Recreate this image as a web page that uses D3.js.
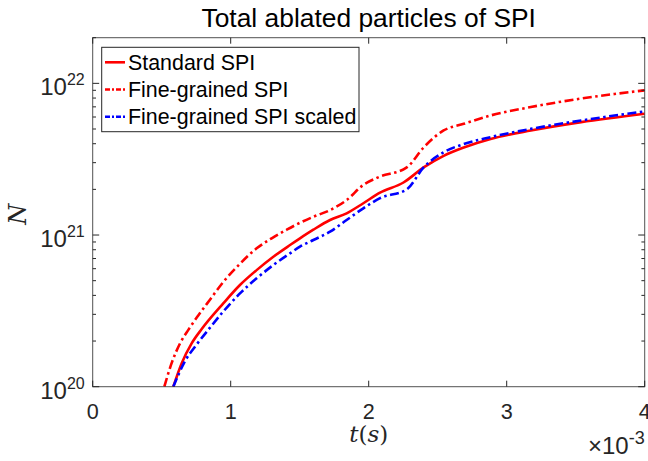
<!DOCTYPE html>
<html>
<head>
<meta charset="utf-8">
<script src="https://cdn.jsdelivr.net/npm/d3@7"></script>
<style>
  body { margin: 0; background: #fff; }
  svg { display: block; }
</style>
</head>
<body>
<svg id="chart"></svg>
<script>
// time in units of 1e-3 s, N = total ablated particles
const tStandard = [0.584, 0.645, 0.717, 0.79, 0.946, 1.067, 1.188, 1.309, 1.43, 1.502, 1.599, 1.72, 1.84, 1.961, 2.082, 2.252, 2.398, 2.543, 2.689, 2.883, 3.175, 3.539, 4.0];
const nStandard = [1.00e20, 1.43e20, 1.93e20, 2.40e20, 3.54e20, 4.68e20, 5.87e20, 7.19e20, 8.59e20, 9.51e20, 1.084e21, 1.256e21, 1.39e21, 1.62e21, 1.905e21, 2.22e21, 2.79e21, 3.33e21, 3.78e21, 4.30e21, 4.89e21, 5.55e21, 6.31e21];

const tFine = [0.519, 0.572, 0.633, 0.693, 0.765, 0.851, 0.946, 1.067, 1.188, 1.3, 1.406, 1.478, 1.599, 1.72, 1.84, 1.961, 2.068, 2.276, 2.398, 2.543, 2.689, 2.883, 3.175, 3.539, 3.781, 4.0];
const nFine = [1.00e20, 1.43e20, 1.93e20, 2.37e20, 2.95e20, 3.76e20, 4.90e20, 6.46e20, 8.17e20, 9.55e20, 1.084e21, 1.175e21, 1.32e21, 1.46e21, 1.70e21, 2.14e21, 2.40e21, 2.79e21, 3.78e21, 4.89e21, 5.41e21, 6.14e21, 6.98e21, 7.94e21, 8.51e21, 8.99e21];

const tScaled = [0.584, 0.67, 0.75, 0.85, 0.946, 1.067, 1.188, 1.309, 1.43, 1.502, 1.599, 1.72, 1.84, 1.961, 2.082, 2.276, 2.398, 2.543, 2.689, 2.883, 3.175, 3.539, 4.0];
const nScaled = [1.00e20, 1.48e20, 1.88e20, 2.45e20, 3.13e20, 4.12e20, 5.18e20, 6.34e20, 7.57e20, 8.38e20, 9.27e20, 1.052e21, 1.256e21, 1.50e21, 1.75e21, 2.00e21, 2.79e21, 3.51e21, 3.98e21, 4.42e21, 5.01e21, 5.69e21, 6.53e21];

const xTicks = [0, 1, 2, 3, 4];
const yTicks = [1e20, 1e21, 1e22];

const seriesNames = ["Standard SPI", "Fine-grained SPI", "Fine-grained SPI scaled"];

const width = 648, height = 461;
const margin = {left: 92.7, right: 3.3, top: 37.7, bottom: 74.3};
const axisColor = "#262626";
const font = "'Liberation Sans', Arial, Helvetica, sans-serif";

const svg = d3.select("#chart")
    .attr("width", width)
    .attr("height", height);

const x = d3.scaleLinear()
    .domain([0, 4])
    .range([margin.left, width - margin.right]);

const y = d3.scaleLog()
    .domain([1e20, 2e22])
    .range([height - margin.bottom, margin.top]);

const series = [
    {name: seriesNames[0], t: tStandard, n: nStandard, color: "#ff0000", dash: null},
    {name: seriesNames[1], t: tFine, n: nFine, color: "#ff0000", dash: "9,3.5,2.5,3.5"},
    {name: seriesNames[2], t: tScaled, n: nScaled, color: "#0000ff", dash: "9,3.5,2.5,3.5"}
];

svg.append("defs").append("clipPath")
    .attr("id", "plotclip")
    .append("rect")
    .attr("x", x(0))
    .attr("y", y(2e22))
    .attr("width", x(4) - x(0))
    .attr("height", y(1e20) - y(2e22));

const line = d3.line()
    .x(d => x(d[0]))
    .y(d => y(d[1]))
    .curve(d3.curveMonotoneX);

svg.append("g")
    .attr("clip-path", "url(#plotclip)")
    .selectAll("path")
    .data(series)
    .join("path")
    .attr("d", s => line(s.t.map((t, i) => [t, s.n[i]])))
    .attr("fill", "none")
    .attr("stroke", s => s.color)
    .attr("stroke-width", 2.6)
    .attr("stroke-dasharray", s => s.dash);

// axes box
const x0 = x(0), x1 = x(4), y0 = y(1e20), y1 = y(2e22);
svg.append("rect")
    .attr("x", x0).attr("y", y1)
    .attr("width", x1 - x0).attr("height", y0 - y1)
    .attr("fill", "none")
    .attr("stroke", axisColor)
    .attr("stroke-opacity", 0.8)
    .attr("stroke-width", 1);

// x ticks, inside, bottom and top
const tickG = svg.append("g").attr("stroke", axisColor).attr("stroke-width", 1);
xTicks.forEach(v => {
    tickG.append("line").attr("x1", x(v)).attr("x2", x(v)).attr("y1", y0).attr("y2", y0 - 6);
    tickG.append("line").attr("x1", x(v)).attr("x2", x(v)).attr("y1", y1).attr("y2", y1 + 6);
});

// y ticks, major and minor, left and right
const yAll = y.ticks();
yAll.forEach(v => {
    const major = yTicks.includes(v);
    const len = major ? 6.5 : 3.3;
    tickG.append("line").attr("x1", x0).attr("x2", x0 + len).attr("y1", y(v)).attr("y2", y(v));
    tickG.append("line").attr("x1", x1).attr("x2", x1 - len).attr("y1", y(v)).attr("y2", y(v));
});

// x tick labels
svg.append("g")
    .selectAll("text")
    .data(xTicks)
    .join("text")
    .attr("x", d => x(d))
    .attr("y", y0 + 32)
    .attr("text-anchor", "middle")
    .attr("font-family", font)
    .attr("font-size", 21.6)
    .attr("fill", axisColor)
    .text(d => d);

// y tick labels 10^n
const yLab = svg.append("g")
    .selectAll("text")
    .data(yTicks)
    .join("text")
    .attr("x", x0 - 8)
    .attr("y", d => y(d) + 12)
    .attr("text-anchor", "end")
    .attr("font-family", font)
    .attr("fill", axisColor);
yLab.append("tspan").attr("font-size", 24).text("10");
yLab.append("tspan").attr("font-size", 16).attr("dy", -10).text(d => Math.round(Math.log10(d)));

// exponent multiplier
const mult = svg.append("text")
    .attr("x", x1)
    .attr("y", 454)
    .attr("text-anchor", "end")
    .attr("font-family", font)
    .attr("fill", axisColor);
mult.append("tspan").attr("font-size", 24).text("\u00d710");
mult.append("tspan").attr("font-size", 18).attr("dy", -10).text("-3");

// axis labels
const xl = svg.append("text")
    .attr("x", (x0 + x1) / 2)
    .attr("y", 442)
    .attr("text-anchor", "middle")
    .attr("font-family", "'DejaVu Serif', 'Liberation Serif', serif")
    .attr("font-size", 23)
    .attr("fill", axisColor);
xl.append("tspan").attr("font-style", "italic").text("t");
xl.append("tspan").text("(");
xl.append("tspan").attr("font-style", "italic").text("s");
xl.append("tspan").text(")");

svg.append("text")
    .attr("transform", `translate(26, ${(y0 + y1) / 2 + 2}) rotate(-90)`)
    .attr("text-anchor", "middle")
    .attr("font-family", "'DejaVu Serif', 'Liberation Serif', serif")
    .attr("font-style", "italic")
    .attr("font-size", 24)
    .attr("fill", axisColor)
    .text("N");

// title
svg.append("text")
    .attr("x", (x0 + x1) / 2)
    .attr("y", 27)
    .attr("text-anchor", "middle")
    .attr("font-family", font)
    .attr("font-size", 26.4)
    .attr("fill", "#000")
    .text("Total ablated particles of SPI");

// legend
const legend = svg.append("g");
legend.append("rect")
    .attr("x", 101.7).attr("y", 47.3)
    .attr("width", 257.3).attr("height", 84.4)
    .attr("fill", "#fff")
    .attr("stroke", axisColor)
    .attr("stroke-width", 1);
const rows = legend.selectAll("g.row")
    .data(series)
    .join("g")
    .attr("class", "row")
    .attr("transform", (d, i) => `translate(0, ${62.3 + i * 27.2})`);
rows.append("line")
    .attr("x1", 105).attr("x2", 125)
    .attr("stroke", d => d.color)
    .attr("stroke-width", 2.6)
    .attr("stroke-dasharray", d => d.dash ? "5,2,2,2" : null);
rows.append("text")
    .attr("x", 128)
    .attr("y", 7.5)
    .attr("font-family", font)
    .attr("font-size", 21.4)
    .attr("fill", "#000")
    .text(d => d.name);
</script>
</body>
</html>
